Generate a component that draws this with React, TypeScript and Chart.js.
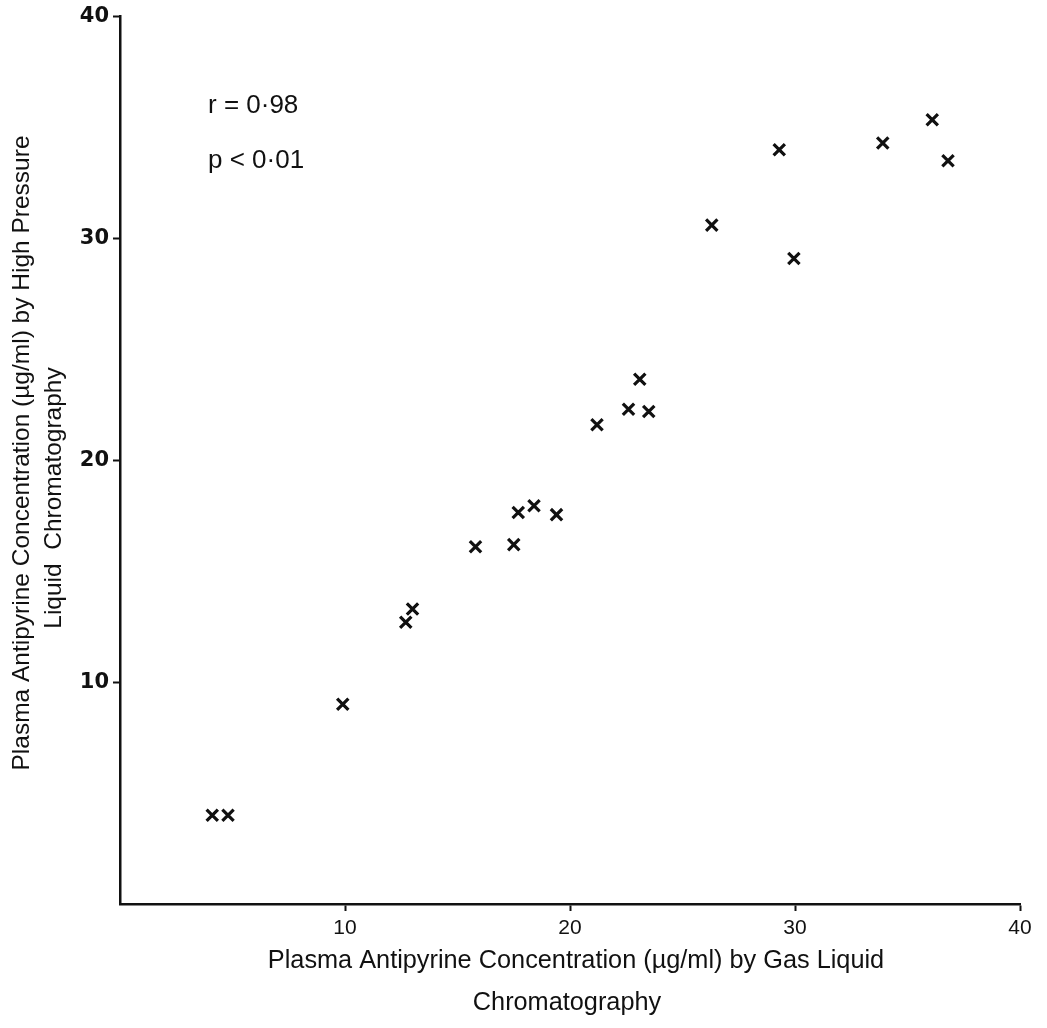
import React, { useEffect, useRef } from "react";
import { Chart, registerables } from "chart.js";

Chart.register(...registerables);

const xValues = [4.1, 4.8, 9.9, 12.7, 13.0, 15.8, 17.5, 17.7, 18.4, 19.4, 21.2, 22.6, 23.1, 23.5, 26.3, 29.3, 29.95, 33.9, 36.1, 36.8];
const yValues = [4.0, 4.0, 9.0, 12.7, 13.3, 16.1, 16.2, 17.65, 17.95, 17.55, 21.6, 22.3, 23.65, 22.2, 30.6, 34.0, 29.1, 34.3, 35.35, 33.5];
const xTicks = [10, 20, 30, 40];
const yTicks = [10, 20, 30, 40];
const xTitle = ["Plasma Antipyrine Concentration (µg/ml) by Gas Liquid", "Chromatography"];
const yTitle = ["Plasma Antipyrine Concentration (µg/ml) by High Pressure", "Liquid  Chromatography"];
const notes = ["r = 0·98", "p < 0·01"];

export default function App() {
  const ref = useRef<HTMLCanvasElement | null>(null);
  useEffect(() => {
    document.body.style.margin = "0";
    const canvas = ref.current!;
    const textPlugin = {
      id: "texts",
      afterDraw(chart: any) {
        const ctx = chart.ctx as CanvasRenderingContext2D;
        const ca = chart.chartArea;
        ctx.save();
        ctx.fillStyle = "#111";
        ctx.textBaseline = "middle";
        ctx.textAlign = "center";
        ctx.font = "25.3px 'Liberation Sans', Arial, sans-serif";
        // x title
        ctx.fillText(xTitle[0], (ca.left + ca.right) / 2 + 6, ca.bottom + 57);
        ctx.fillText(xTitle[1], (ca.left + ca.right) / 2 - 3, ca.bottom + 99);
        // y title
        ctx.font = "24.5px 'Liberation Sans', Arial, sans-serif";
        ctx.save();
        ctx.translate(22, 453);
        ctx.rotate(-Math.PI / 2);
        ctx.fillText(yTitle[0], 0, 0);
        ctx.restore();
        ctx.save();
        ctx.translate(54, 498);
        ctx.rotate(-Math.PI / 2);
        ctx.fillText(yTitle[1], 0, 0);
        ctx.restore();
        // notes
        ctx.font = "26px 'Liberation Sans', Arial, sans-serif";
        ctx.textAlign = "left";
        ctx.fillText(notes[0], ca.left + 88, ca.top + 89);
        ctx.fillText(notes[1], ca.left + 88, ca.top + 144);
        ctx.restore();
      },
    };
    const chart = new Chart(canvas, {
      type: "scatter",
      data: {
        datasets: [
          {
            data: xValues.map((x, i) => ({ x, y: yValues[i] })),
            pointStyle: "crossRot",
            pointRadius: 8,
            pointBorderWidth: 3.2,
            borderColor: "#111",
            backgroundColor: "#111",
          },
        ],
      },
      options: {
        responsive: false,
        animation: false,
        events: [],
        layout: { padding: { top: 15, right: 27, left: 0, bottom: 0 } },
        plugins: { legend: { display: false }, tooltip: { enabled: false } },
        scales: {
          x: {
            type: "linear",
            min: 0,
            max: 40,
            afterFit: (s: any) => { s.height = 124; },
            afterBuildTicks: (s: any) => { s.ticks = xTicks.map((v) => ({ value: v })); },
            border: { display: true, color: "#111", width: 2.5 },
            grid: { display: true, drawOnChartArea: false, drawTicks: true, tickLength: 7, tickColor: "#111", tickWidth: 2 },
            ticks: {
              color: "#111",
              padding: 5,
              maxRotation: 0,
              font: { family: "'Liberation Sans', Arial, sans-serif", size: 21 },
            },
          },
          y: {
            type: "linear",
            min: 0,
            max: 40,
            afterFit: (s: any) => { s.width = 120; },
            afterBuildTicks: (s: any) => { s.ticks = yTicks.map((v) => ({ value: v })); },
            border: { display: true, color: "#111", width: 2.5 },
            grid: { display: true, drawOnChartArea: false, drawTicks: true, tickLength: 7, tickColor: "#111", tickWidth: 2 },
            ticks: {
              color: "#111",
              padding: 4,
              font: { family: "'DejaVu Sans', sans-serif", size: 21, weight: "bold" },
            },
          },
        },
      },
      plugins: [textPlugin],
    });
    return () => chart.destroy();
  }, []);
  return (
    <canvas
      ref={ref}
      width={1047}
      height={1028}
      style={{ position: "absolute", left: 0, top: 0, width: 1047, height: 1028, background: "#fff" }}
    />
  );
}
